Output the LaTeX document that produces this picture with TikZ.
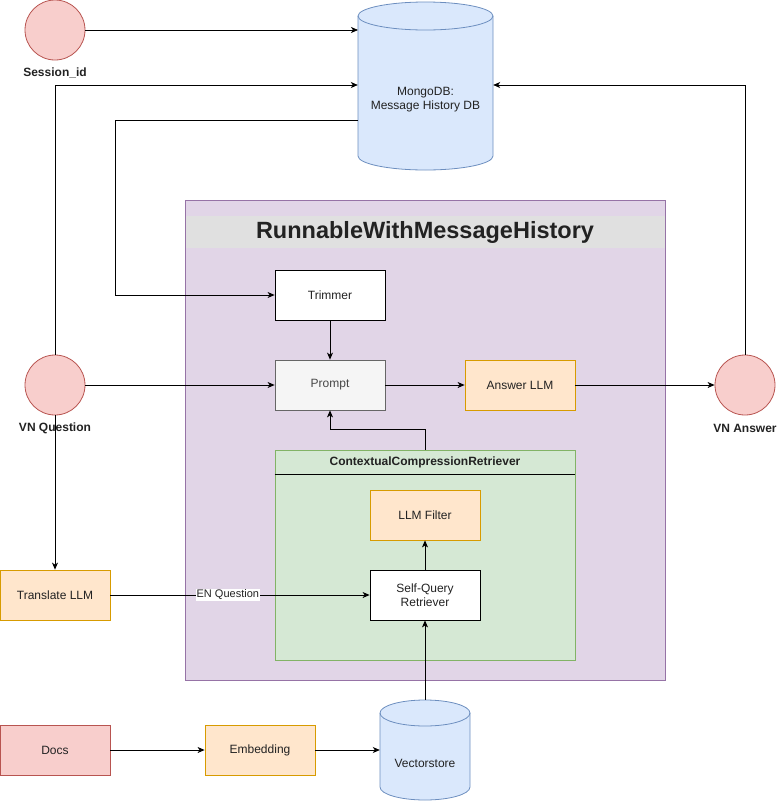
\documentclass[tikz,border=0pt]{standalone}
\usepackage{fontspec}
\setmainfont{Liberation Sans}
\usetikzlibrary{arrows.meta}
\definecolor{redfill}{HTML}{F8CECC}\definecolor{redline}{HTML}{B85450}
\definecolor{orfill}{HTML}{FFE6CC}\definecolor{orline}{HTML}{D79B00}
\definecolor{grfill}{HTML}{D5E8D4}\definecolor{grline}{HTML}{82B366}
\definecolor{blfill}{HTML}{DAE8FC}\definecolor{blline}{HTML}{6C8EBF}
\definecolor{pufill}{HTML}{E1D5E7}\definecolor{puline}{HTML}{9673A6}
\definecolor{prfill}{HTML}{F5F5F5}\definecolor{prline}{HTML}{666666}
\definecolor{band}{HTML}{E0E0E0}
\definecolor{txt}{HTML}{222222}
\begin{document}
\begin{tikzpicture}[x=1pt,y=-1pt,
  box/.style={draw, line width=0.8pt, minimum width=110pt, minimum height=50pt, inner sep=0pt, align=center,
    font=\fontsize{12}{14}\selectfont, text=txt},
  wbox/.style={box, fill=white, draw=black},
  obox/.style={box, fill=orfill, draw=orline},
  rbox/.style={box, fill=redfill, draw=redline},
  pbox/.style={box, fill=prfill, draw=prline, text=prline!70!black},
  circ/.style={circle, draw=redline, fill=redfill, line width=0.8pt, minimum size=60pt, inner sep=0pt},
  clabel/.style={font=\bfseries\fontsize{12}{14}\selectfont, text=txt},
  arr/.style={draw=black, line width=0.8pt, -{Stealth[length=7pt,width=6pt,inset=2pt]}},
  cyl/.style={draw=blline, fill=blfill, line width=0.8pt}
]
\useasboundingbox (0,0) rectangle (777,801);

% containers
\node[draw=puline, fill=pufill, line width=0.8pt, minimum width=480pt, minimum height=480pt, inner sep=0pt] (run) at (425,440) {};
\node[fill=band, minimum width=479pt, minimum height=32pt, inner sep=0pt,
  font=\bfseries\fontsize{23.5}{28}\selectfont, text=txt] (title) at (425,232) {RunnableWithMessageHistory};

\node[draw=grline, fill=grfill, line width=0.8pt, minimum width=300pt, minimum height=210pt, inner sep=0pt] (ccr) at (425,555) {};
\draw[black, line width=0.8pt] (ccr.west |- 0,474) coordinate (hl) -- (ccr.east |- 0,474) coordinate (hr);
\node[font=\bfseries\fontsize{12}{14}\selectfont, text=txt] (ccrt) at (425,462) {ContextualCompressionRetriever};

% MongoDB cylinder
\draw[cyl] (358,16) -- (358,156) arc[start angle=180, end angle=0, x radius=67.5, y radius=14]
  -- (493,16) arc[start angle=0, end angle=-180, x radius=67.5, y radius=14] -- cycle;
\draw[cyl, fill=none] (358,16) arc[start angle=180, end angle=0, x radius=67.5, y radius=14];
\node[minimum width=135pt, minimum height=170pt, inner sep=0pt] (mongo) at (425.5,85) {};
\node[align=center, font=\fontsize{12}{14}\selectfont, text=txt] (mongot) at (425.5,100) {MongoDB:\\Message History DB};

% Vectorstore cylinder
\draw[cyl] (380,713) -- (380,787) arc[start angle=180, end angle=0, x radius=45, y radius=13]
  -- (470,713) arc[start angle=0, end angle=-180, x radius=45, y radius=13] -- cycle;
\draw[cyl, fill=none] (380,713) arc[start angle=180, end angle=0, x radius=45, y radius=13];
\node[minimum width=90pt, minimum height=100pt, inner sep=0pt] (vec) at (425,750) {};
\node[font=\fontsize{12}{14}\selectfont, text=txt] (vect) at (425,763) {Vectorstore};

% circles
\node[circ] (sess) at (55,30) {};
\node[clabel] (sesst) at (55,73) {Session\_id};
\node[circ] (vnq) at (55,385) {};
\node[clabel] (vnqt) at (55,428) {VN Question};
\node[circ] (vna) at (745,385) {};
\node[clabel] (vnat) at (745,428) {VN Answer};

% boxes
\node[wbox] (trim) at (330,295) {Trimmer};
\node[pbox] (prompt) at (330,385) {Prompt};
\node[obox] (ans) at (520,385) {Answer LLM};
\node[obox] (filt) at (425,515) {LLM Filter};
\node[wbox] (sq) at (425,595) {Self-Query\\Retriever};
\node[obox] (trans) at (55,595) {Translate LLM};
\node[rbox] (docs) at (55,750) {Docs};
\node[obox] (emb) at (260,750) {Embedding};

% connectors
\coordinate (m30) at (358,30);
\coordinate (m120) at (358,120);
\draw[arr] (sess.east) -- (m30);
\draw[arr] (vnq.north) |- (mongo.west);
\draw[arr] (m120) -- (115,120) |- (trim.west);
\draw[arr] (vna.north) |- (mongo.east);
\draw[arr] (trim.south) -- (prompt.north);
\draw[arr] (vnq.east) -- (prompt.west);
\draw[arr] (prompt.east) -- (ans.west);
\draw[arr] (ans.east) -- (vna.west);
\draw[arr] (ccr.north) -- ++(0,-20) -| (prompt.south);
\draw[arr] (sq.north) -- (filt.south);
\draw[arr] (vnq.south) -- (trans.north);
\draw[arr] (trans.east) -- node[pos=0.453, fill=white, inner sep=0.5pt, font=\fontsize{11}{13}\selectfont, text=txt] (enq) {EN Question} (sq.west);
\draw[arr] (docs.east) -- (emb.west);
\draw[arr] (emb.east) -- (vec.west);
\draw[arr] (vec.north) -- (sq.south);
\end{tikzpicture}
\end{document}
